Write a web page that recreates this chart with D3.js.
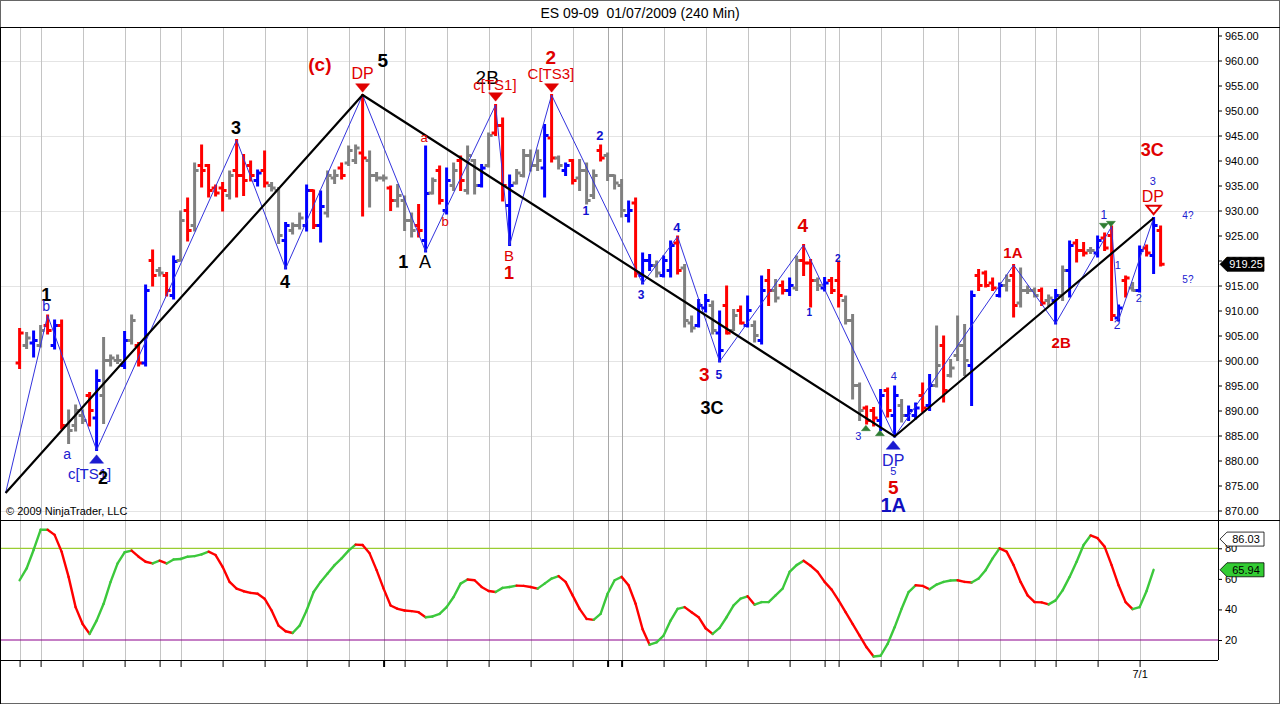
<!DOCTYPE html>
<html>
<head>
<meta charset="utf-8">
<script src="https://cdn.jsdelivr.net/npm/d3@7"></script>
<style>
    body { margin: 0; background: #fff; }
    text { font-family: "Liberation Sans", Arial, sans-serif; }
</style>
</head>
<body>
<svg id="chart" width="1280" height="704"></svg>
<script>
// bar index of the first bar in the arrays below
const firstBar = 2;

// r = red, b = blue, g = gray paint bars
const barColor = [
    "r","g","b","g","r","b","r","g","g","g",
    "r","b","g","g","g","b","g","r","b","r",
    "g","r","b","g","r","g","r","r","r","r",
    "g","r","r","r","b","r","g","g","b","g",
    "g","b","r","b","g","g","r","g","g","r",
    "g","g","g","r","g","g","g","r","b","g",
    "r","b","g","r","g","g","b","g","r","r",
    "b","g","g","g","g","b","r","g","b","r",
    "g","g","g","r","g","g","g","b","r","b",
    "b","g","b","b","r","g","g","b","b","g",
    "b","r","g","r","b","g","b","r","g","r",
    "b","g","r","r","g","b","r","r","g","g",
    "g","r","r","b","r","b","g","b","b","r",
    "b","g","r","g","g","g","b","r","r","r",
    "b","g","r","g","g","g","r","g","b","g",
    "b","r","r","g","b","r","r","b","r","g",
    "b","r","b","r"
];

const opens = [
    899.5, 903, 903.5, 903, 907, 903, 907, 887, 887, 889,
    893, 888.5, 893, 900, 900, 899, 904, 903, 899.5, 920,
    918, 917, 913, 920, 930, 927, 939, 939, 934.5, 934.5,
    933, 938, 937, 939, 936, 938, 935, 934, 924, 926,
    927, 927, 934, 927, 929.5, 936.5, 938.5, 939.5, 940, 941.5,
    940, 937, 936.5, 934.5, 932, 932, 928, 927, 924, 933.5,
    938, 930, 935, 940, 934, 940, 935, 939, 945.5, 947,
    931, 935.5, 937, 941, 939, 938.5, 944.5, 940.5, 938, 940,
    936.5, 938, 933, 942, 941, 937, 935, 929, 931.5, 917,
    920, 919, 917, 918, 923.5, 918.5, 907.5, 907, 910.5, 911,
    905.5, 911, 906, 910, 907, 907, 904, 916, 914, 915,
    914, 914.5, 920, 919.5, 916, 914.5, 916, 916, 912, 908,
    895, 890.5, 890, 888, 894, 889, 891, 889, 889, 893,
    891, 895, 903, 897, 901, 903, 899, 917, 917.5, 915.5,
    913, 915, 917, 911.5, 914, 914, 914, 912, 912, 913,
    918, 923.5, 922, 922, 921.5, 924.5, 925, 908.5, 916, 914.5,
    914, 922.5, 921, 926
];

const highs = [
    906.3, 905.5, 905.8, 906.9, 909, 908, 908, 890, 891, 890,
    893.5, 898, 904.5, 901, 901, 905.7, 909, 903.5, 915, 922,
    918.5, 917.5, 920.8, 929.8, 932.4, 939.4, 943, 939.1, 935, 935.5,
    937.8, 944.1, 941.1, 939.8, 938, 941.8, 935.5, 934.5, 927.5, 927.4,
    929.4, 935, 934, 933.8, 937.8, 938, 939.4, 942.8, 943, 953.1,
    941.8, 937.5, 937, 934.8, 935.1, 932.8, 929.4, 931.1, 942.8, 936.4,
    938.8, 938.4, 939.4, 940.8, 942.8, 940.1, 939.1, 945.4, 951.1, 948.4,
    937, 938.1, 942.1, 942, 942, 947.1, 953.1, 940.8, 939.4, 940.1,
    940.1, 939.4, 938, 943, 941.4, 937, 936.1, 931.8, 932.4, 921.4,
    921.1, 919.8, 920.8, 923.8, 924.8, 919.1, 908.8, 912.1, 913.1, 911.8,
    909.8, 914.8, 910.1, 910.8, 912.8, 907.8, 916.8, 918.1, 916.1, 915.8,
    916.4, 920.8, 923.1, 920.1, 916.4, 916.5, 916.5, 919.8, 912.8, 909.1,
    895.4, 890.8, 890.5, 894.1, 894.4, 894.8, 892.1, 890.8, 891.4, 895.4,
    897.1, 906.8, 904.8, 900.1, 908.8, 907.1, 913.8, 918.1, 917.8, 916.4,
    915.4, 917, 919.1, 918.4, 914.8, 914.4, 914.4, 913, 914.1, 918.8,
    923.8, 924.1, 923.5, 922.5, 924.8, 925.4, 926.8, 911, 916.8, 915.5,
    922.8, 923, 928.5, 926.8
];

const lows = [
    898.5, 902.5, 900.8, 902.8, 905.4, 902.4, 886.4, 883.5, 886, 887.5,
    887, 882.1, 887.5, 899, 899.5, 898.5, 903.4, 899, 899, 915,
    917, 913, 912.4, 920, 924, 926, 934.8, 932.8, 933, 930,
    932.4, 932.8, 933.1, 936, 935, 934.8, 934, 923.5, 918.4, 925.4,
    926.4, 926, 926.5, 923.8, 928.8, 935.5, 936.4, 939.1, 939.5, 929,
    930.8, 936, 936, 930.1, 930.8, 926.1, 924.8, 924.8, 921.8, 933.4,
    931.4, 929.4, 934.1, 934.1, 933.4, 933.4, 934.8, 938.8, 945.1, 932,
    923.1, 935.4, 936.8, 938, 938.1, 932.8, 939.8, 938.4, 937.1, 935.4,
    934.1, 931.4, 932.5, 940, 936.1, 934.4, 928.8, 927.8, 916.8, 915.4,
    918.1, 916.8, 916.8, 916.8, 917.4, 906.8, 905.8, 906.8, 909.8, 905.4,
    899.8, 905.4, 906.1, 907.4, 906.8, 903.8, 903.4, 911.1, 911.8, 913.4,
    913.1, 914.1, 917.1, 910.8, 914.1, 914, 913.5, 910.8, 907.4, 892.4,
    888.1, 887.4, 887, 886.1, 888.8, 884.8, 887.8, 888.1, 888.4, 889.8,
    890.1, 894.8, 891.8, 896.8, 900.1, 897.1, 891.1, 914.1, 914.8, 914.1,
    912.8, 914, 908.8, 910.8, 913.5, 912.8, 911.1, 911, 907.4, 912.1,
    912.8, 919.8, 921, 921.5, 920.8, 922.1, 908.1, 908, 912.8, 914,
    913.8, 921, 917.5, 919
];

const closes = [
    905.5, 904.5, 904, 906, 906, 907, 887, 886, 890, 888,
    890, 896, 900, 900.5, 900, 904, 908, 899.5, 914, 917,
    917.5, 914, 919.8, 928, 926, 938, 938, 934, 933.5, 934,
    937, 937, 936, 937, 937.5, 935.5, 934.5, 925, 927, 927,
    928.5, 934, 927, 930.8, 937, 937, 937, 942, 942.5, 940.5,
    937, 936.5, 936.5, 932, 933, 928, 926, 926, 933.4, 936,
    932, 936, 938, 936, 941, 935, 938.5, 945, 947, 935,
    935, 937.5, 941, 939, 940, 945, 940.5, 939, 939, 936,
    938, 932, 937, 940.5, 937, 935.5, 930, 930, 917.5, 920,
    919, 917.5, 920, 923, 918, 908, 906.5, 911, 912, 906,
    902, 905.5, 909, 907.5, 910, 905, 914, 914, 912.5, 914,
    915, 920, 919.5, 916, 915, 915.5, 914, 913, 908, 895,
    890, 888, 888.5, 893, 890, 893, 889, 890, 890.5, 890.5,
    895, 899, 894, 898.5, 903, 900, 913, 915, 915, 914.5,
    915, 916, 911, 914, 914, 913, 911.5, 912.5, 913, 918,
    923, 922, 921.5, 922, 924, 922.5, 909, 910.5, 916.5, 914,
    922, 921.5, 927, 919.25
];

// oscillator, starting at firstBar
const oscValues = [
    59.1, 66.8, 78.9, 92.1, 92.1, 88.8, 77.8, 61.3, 41.5, 30.5,
    24.0, 32.7, 43.7, 58.0, 70.1, 77.4, 78.5, 74.5, 71.2, 70.1,
    71.9, 70.1, 72.7, 73.0, 74.5, 74.9, 76.0, 77.8, 75.6, 67.9,
    58.0, 53.6, 51.9, 50.8, 50.3, 47.0, 39.3, 29.4, 25.7, 24.6,
    29.4, 39.3, 51.4, 58.0, 63.5, 69.0, 73.4, 78.5, 82.4, 82.2,
    76.7, 65.7, 53.6, 42.6, 40.4, 39.3, 38.9, 38.2, 34.9, 35.4,
    37.1, 41.5, 48.1, 56.9, 59.6, 59.1, 54.7, 52.1, 51.4, 54.1,
    54.7, 55.6, 55.4, 54.7, 53.6, 56.9, 60.2, 61.8, 58.0, 49.2,
    40.4, 33.8, 33.2, 37.1, 50.3, 59.1, 61.3, 55.8, 43.7, 27.0,
    16.9, 18.5, 22.9, 32.7, 40.4, 41.5, 38.2, 34.9, 27.7, 24.0,
    27.9, 34.9, 42.6, 47.0, 48.6, 43.1, 44.8, 44.8, 49.2, 53.6,
    64.6, 69.0, 71.9, 68.6, 64.6, 58.0, 53.0, 45.9, 38.2, 30.5,
    22.9, 15.2, 9.2, 9.7, 17.4, 28.3, 40.4, 51.4, 55.8, 55.4,
    53.2, 56.3, 58.0, 58.9, 59.1, 58.0, 57.6, 60.2, 65.7, 73.4,
    80.0, 77.8, 69.0, 58.0, 49.2, 44.8, 44.6, 43.3, 45.9, 52.5,
    61.3, 71.2, 82.2, 88.4, 86.6, 81.1, 69.0, 55.8, 44.8, 40.2,
    41.5, 52.1, 65.94
];

// session separators (bar index), weekend separators, date label
const sessionTicks = [2, 5, 11, 17, 22, 25, 31, 37, 43, 49, 54, 57, 63, 69, 75, 81, 86, 88,
    94, 100, 106, 112, 117, 119, 125, 131, 136, 142, 147, 150, 156, 162];
const weekTicks = [54, 86, 88];
const dateTicks = {162: "7/1"};

const priceTicks = d3.range(870, 965.01, 5);
const priceGrid = [870, 885, 900, 915, 930, 945, 960];
const oscTicks = [20, 40, 60, 80];

// wave counts: [bar index, price]
const waveLine = [[0, 873.5], [51, 953.1], [127, 884.8], [164, 928.5]];
const zigzag = [[0, 873.5], [6, 909], [13, 882.1], [33, 944.1], [40, 918.4], [51, 953.1],
    [60, 921.8], [70, 951.1], [72, 923.1], [78, 953.1], [91, 915.4], [96, 924.8],
    [102, 899.8], [114, 923.1], [127, 884.8], [144, 919.1], [150, 907.4],
    [158, 926.8], [159, 908.1], [164, 928.5]];

// [bar index, price, text, color, size, bold]
const waveLabels = [
    [44.9, 959.3, "(c)", "#e00000", 19, true],
    [53.9, 960.1, "5", "#000", 19, true],
    [51, 957.5, "DP", "#e00000", 16, false],
    [32.9, 946.5, "3", "#000", 18, true],
    [5.8, 913.1, "1", "#000", 18, true],
    [5.8, 911.0, "b", "#2020d0", 14, false],
    [8.8, 881.3, "a", "#2020d0", 14, false],
    [12.0, 877.5, "c[TS1]", "#2020d0", 15, false],
    [13.9, 876.5, "2", "#000", 18, true],
    [39.9, 915.7, "4", "#000", 18, true],
    [56.8, 919.7, "1", "#000", 18, true],
    [59.9, 919.7, "A", "#000", 18, false],
    [59.8, 944.6, "a", "#e00000", 13, false],
    [62.8, 927.8, "b", "#e00000", 13, false],
    [68.8, 956.6, "2B", "#000", 19, false],
    [69.9, 955.2, "c[TS1]", "#e00000", 15, false],
    [77.9, 960.7, "2", "#e00000", 19, true],
    [77.9, 957.5, "C[TS3]", "#e00000", 15, false],
    [71.9, 921.1, "B", "#e00000", 15, false],
    [71.9, 917.5, "1", "#e00000", 18, true],
    [84.9, 945.1, "2", "#1010d0", 13, true],
    [82.9, 929.9, "1", "#1010d0", 12, true],
    [95.9, 926.6, "4", "#1010d0", 13, true],
    [90.8, 913.1, "3", "#1010d0", 12, true],
    [99.8, 897.3, "3", "#e00000", 19, true],
    [101.9, 897.1, "5", "#1010d0", 12, true],
    [100.9, 890.5, "3C", "#000", 18, true],
    [113.9, 927.1, "4", "#e00000", 19, true],
    [114.8, 909.7, "1", "#1010d0", 10, true],
    [118.9, 920.5, "2", "#1010d0", 10, true],
    [121.8, 885.0, "3", "#2020d0", 11, false],
    [126.9, 896.9, "4", "#2020d0", 11, false],
    [126.8, 880.1, "DP", "#2020d0", 16, false],
    [126.8, 877.9, "5", "#2020d0", 11, false],
    [126.8, 874.7, "5", "#e00000", 19, true],
    [126.8, 871.1, "1A", "#1010c0", 20, true],
    [143.9, 921.7, "1A", "#e00000", 15, true],
    [150.8, 903.7, "2B", "#e00000", 15, true],
    [156.9, 929.2, "1", "#2020d0", 12, false],
    [158.9, 919.1, "1", "#2020d0", 11, false],
    [158.8, 907.1, "2", "#2020d0", 12, false],
    [161.9, 912.5, "2", "#2020d0", 11, false],
    [163.8, 942.1, "3C", "#e00000", 18, true],
    [163.9, 935.9, "3", "#2020d0", 11, false],
    [163.9, 932.9, "DP", "#e00000", 16, false],
    [168.9, 929.1, "4?", "#2020d0", 10, false],
    [168.9, 916.3, "5?", "#2020d0", 10, false]
];

// [bar index, price, direction, color, width, filled]
const markers = [
    [51, 954.5, "down", "#e00000", 14, true],
    [70, 952.7, "down", "#e00000", 14, true],
    [78, 954.5, "down", "#e00000", 14, true],
    [13, 880.3, "up", "#1a1ad0", 14, true],
    [126.8, 883.1, "up", "#1a1ad0", 14, true],
    [122.9, 886.5, "up", "#2e7d32", 9, true],
    [124.9, 885.5, "up", "#2e7d32", 9, true],
    [156.9, 926.9, "down", "#2e7d32", 9, true],
    [157.9, 927.3, "down", "#2e7d32", 9, true],
    [164, 930.1, "down", "#e00000", 14, false]
];

const lastPrice = 919.25;
const oscLabelTop = 86.03;

const colorMap = {r: "#ff0000", b: "#0000ff", g: "#808080"};

const W = 1280, H = 704;
const panelRight = 1218;
const mainTop = 27, mainBottom = 520, oscBottom = 660;

const svg = d3.select("#chart");

const xScale = d3.scaleLinear().domain([-0.8, 173.2]).range([0, panelRight]);
const yScale = d3.scaleLinear().domain([870, 965]).range([510.5, 35.5]);
const oscScale = d3.scaleLinear().domain([20, 80]).range([640, 548.3]);

svg.append("defs").append("clipPath").attr("id", "mainClip")
    .append("rect").attr("x", 0).attr("y", mainTop).attr("width", panelRight).attr("height", mainBottom - mainTop);
svg.select("defs").append("clipPath").attr("id", "oscClip")
    .append("rect").attr("x", 0).attr("y", mainBottom).attr("width", panelRight).attr("height", oscBottom - mainBottom);

// title
svg.append("text")
    .attr("x", W / 2).attr("y", 18)
    .attr("text-anchor", "middle")
    .style("font-size", "14px")
    .style("white-space", "pre")
    .text("ES 09-09  01/07/2009 (240 Min)");

// grid lines
const grid = svg.append("g");
grid.selectAll(".hgrid")
    .data(priceGrid)
    .join("line")
    .attr("x1", 0).attr("x2", panelRight)
    .attr("y1", d => Math.round(yScale(d)) + 0.5).attr("y2", d => Math.round(yScale(d)) + 0.5)
    .attr("stroke", "#e4e4e4");

grid.selectAll(".vgrid")
    .data(sessionTicks)
    .join("line")
    .attr("x1", d => Math.round(xScale(d)) + 0.5).attr("x2", d => Math.round(xScale(d)) + 0.5)
    .attr("y1", mainTop).attr("y2", oscBottom)
    .attr("stroke", d => weekTicks.includes(d) ? "#a8a8a8" : "#c4c4c4");

// oscillator reference lines
svg.append("line")
    .attr("x1", 0).attr("x2", panelRight)
    .attr("y1", oscScale(80)).attr("y2", oscScale(80))
    .attr("stroke", "#9acd32").attr("stroke-width", 1.2);
svg.append("line")
    .attr("x1", 0).attr("x2", panelRight)
    .attr("y1", oscScale(20)).attr("y2", oscScale(20))
    .attr("stroke", "#8b008b").attr("stroke-width", 1.2);

// price bars
const bars = d3.range(opens.length).map(k => ({
    i: k + firstBar,
    o: opens[k], h: highs[k], l: lows[k], c: closes[k],
    color: colorMap[barColor[k]]
}));

const main = svg.append("g").attr("clip-path", "url(#mainClip)");

const barG = main.selectAll(".bar")
    .data(bars)
    .join("g")
    .attr("class", "bar")
    .attr("stroke", d => d.color)
    .attr("stroke-width", 3);

barG.append("line")
    .attr("x1", d => xScale(d.i)).attr("x2", d => xScale(d.i))
    .attr("y1", d => yScale(d.h) - 1).attr("y2", d => yScale(d.l) + 1);
barG.append("line")
    .attr("x1", d => xScale(d.i) - 4).attr("x2", d => xScale(d.i))
    .attr("y1", d => yScale(d.o)).attr("y2", d => yScale(d.o));
barG.append("line")
    .attr("x1", d => xScale(d.i)).attr("x2", d => xScale(d.i) + 4)
    .attr("y1", d => yScale(d.c)).attr("y2", d => yScale(d.c));

// zigzag and wave line
const priceLine = d3.line().x(d => xScale(d[0])).y(d => yScale(d[1]));

main.append("path")
    .datum(zigzag)
    .attr("d", priceLine)
    .attr("fill", "none")
    .attr("stroke", "#3333dd")
    .attr("stroke-width", 1);

main.append("path")
    .datum(waveLine)
    .attr("d", priceLine)
    .attr("fill", "none")
    .attr("stroke", "#000")
    .attr("stroke-width", 2.2);

// markers
function triPath(w, dir) {
    const h = w * 0.6;
    return dir === "down"
        ? `M${-w / 2},${-h / 2}L${w / 2},${-h / 2}L0,${h / 2}Z`
        : `M${-w / 2},${h / 2}L${w / 2},${h / 2}L0,${-h / 2}Z`;
}

main.selectAll(".marker")
    .data(markers)
    .join("path")
    .attr("transform", d => `translate(${xScale(d[0])},${yScale(d[1])})`)
    .attr("d", d => triPath(d[4], d[2]))
    .attr("fill", d => d[5] ? d[3] : "#fff")
    .attr("stroke", d => d[3])
    .attr("stroke-width", d => d[5] ? 0.5 : 2);

// wave labels
main.selectAll(".wlabel")
    .data(waveLabels)
    .join("text")
    .attr("x", d => xScale(d[0]))
    .attr("y", d => yScale(d[1]))
    .attr("text-anchor", "middle")
    .attr("dominant-baseline", "central")
    .attr("fill", d => d[3])
    .style("font-size", d => d[4] + "px")
    .style("font-weight", d => d[5] ? "bold" : "normal")
    .text(d => d[2]);

svg.append("text")
    .attr("x", 6).attr("y", 515)
    .style("font-size", "11px")
    .text("\u00a9 2009 NinjaTrader, LLC");

// oscillator
const osc = oscValues.map((v, k) => ({i: k + firstBar, v: v}));
const oscSegs = d3.pairs(osc);

svg.append("g").attr("clip-path", "url(#oscClip)")
    .selectAll("line")
    .data(oscSegs)
    .join("line")
    .attr("x1", d => xScale(d[0].i)).attr("y1", d => oscScale(d[0].v))
    .attr("x2", d => xScale(d[1].i)).attr("y2", d => oscScale(d[1].v))
    .attr("stroke", d => d[1].v >= d[0].v ? "#3cc83c" : "#ff0000")
    .attr("stroke-width", 2.4)
    .attr("stroke-linecap", "round");

// axes
const priceAxis = d3.axisRight(yScale)
    .tickValues(priceTicks)
    .tickSize(4)
    .tickFormat(d3.format(".2f"));

const pa = svg.append("g")
    .attr("transform", `translate(${panelRight},0)`)
    .call(priceAxis);
pa.select(".domain").remove();
pa.selectAll("text").attr("x", 7).style("font-size", "11px").attr("fill", "#000");

const oscAxis = d3.axisRight(oscScale)
    .tickValues(oscTicks)
    .tickSize(4);
const oa = svg.append("g")
    .attr("transform", `translate(${panelRight},0)`)
    .call(oscAxis);
oa.select(".domain").remove();
oa.selectAll("text").attr("x", 7).style("font-size", "11px").attr("fill", "#000");

const timeAxis = d3.axisBottom(xScale)
    .tickValues(sessionTicks)
    .tickSize(7)
    .tickSizeOuter(0)
    .tickFormat(d => dateTicks[d] || "");
const ta = svg.append("g")
    .attr("transform", `translate(0,${oscBottom})`)
    .call(timeAxis);
ta.select(".domain").remove();
ta.selectAll(".tick line")
    .attr("stroke-width", d => weekTicks.includes(d) ? 2 : 1);
ta.selectAll("text").attr("y", 10).style("font-size", "11px");

// value tags on the right
function tag(yPos, label, fill, textFill) {
    const g = svg.append("g").attr("transform", `translate(${panelRight + 2},${yPos})`);
    g.append("path")
        .attr("d", "M0,0L7,-7L44,-7L44,7L7,7Z")
        .attr("fill", fill)
        .attr("stroke", "#000")
        .attr("stroke-width", 0.8);
    g.append("text")
        .attr("x", 26).attr("y", 0)
        .attr("text-anchor", "middle")
        .attr("dominant-baseline", "central")
        .attr("fill", textFill)
        .style("font-size", "11px")
        .text(label);
}
tag(yScale(lastPrice), d3.format(".2f")(lastPrice), "#000", "#fff");
tag(oscScale(oscLabelTop), d3.format(".2f")(oscLabelTop), "#fff", "#000");
tag(oscScale(oscValues[oscValues.length - 1]), d3.format(".2f")(oscValues[oscValues.length - 1]), "#33cc33", "#000");

// frames
const frame = svg.append("g").attr("stroke", "#000").attr("fill", "none");
frame.append("rect").attr("x", 0.5).attr("y", 0.5).attr("width", W - 1).attr("height", H - 1)
    .attr("stroke", "#666");
frame.append("line").attr("x1", 0).attr("x2", W).attr("y1", mainTop + 0.5).attr("y2", mainTop + 0.5);
frame.append("line").attr("x1", 0).attr("x2", W).attr("y1", mainBottom + 0.5).attr("y2", mainBottom + 0.5);
frame.append("line").attr("x1", 0).attr("x2", panelRight).attr("y1", oscBottom + 0.5).attr("y2", oscBottom + 0.5);
frame.append("line").attr("x1", panelRight + 0.5).attr("x2", panelRight + 0.5).attr("y1", mainTop).attr("y2", oscBottom);
frame.append("line").attr("x1", 0.5).attr("x2", 0.5).attr("y1", mainTop).attr("y2", H);
</script>
</body>
</html>
